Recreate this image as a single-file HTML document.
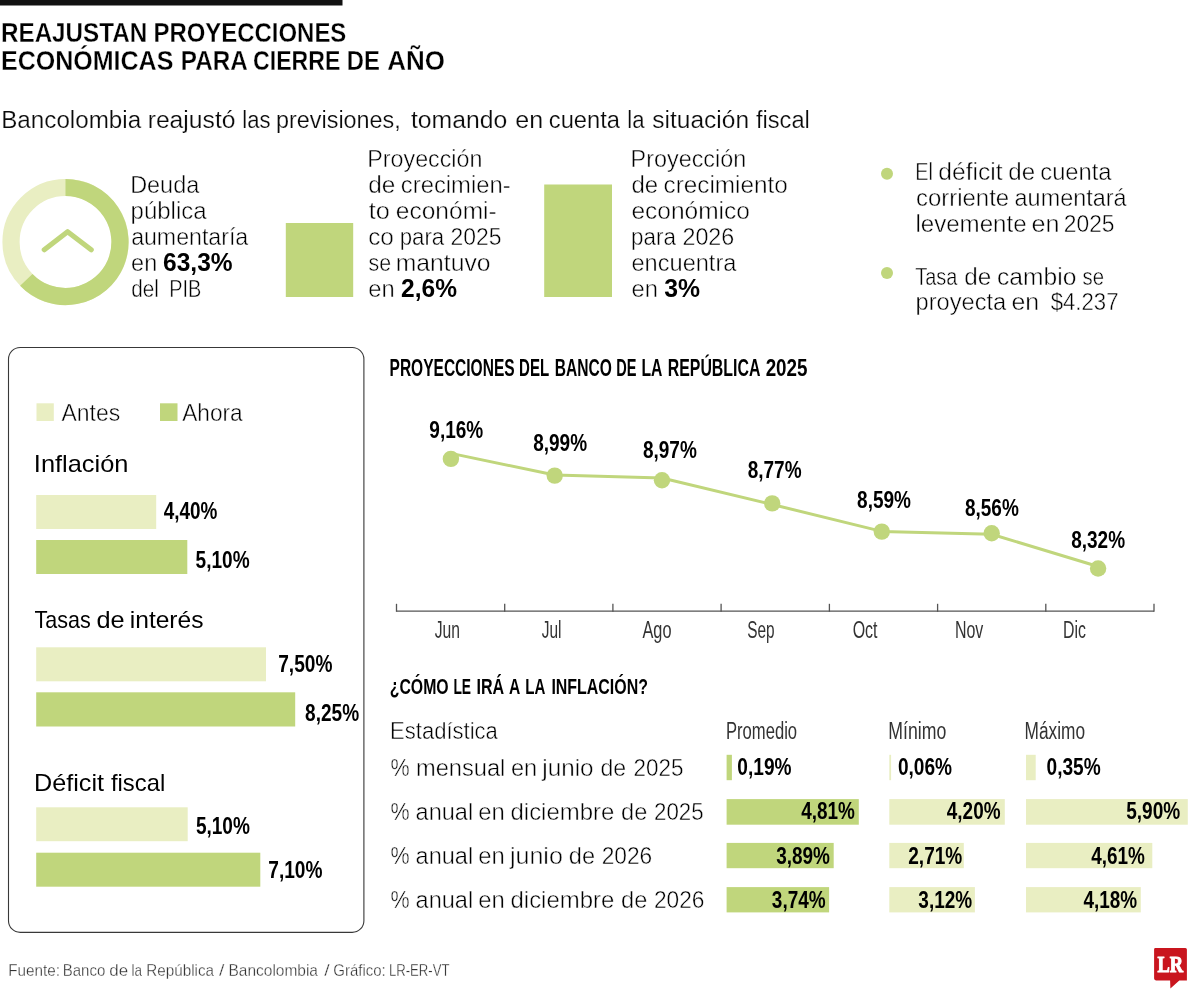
<!DOCTYPE html>
<html lang="es">
<head>
<meta charset="utf-8">
<title>Reajustan proyecciones económicas para cierre de año</title>
<style>
html,body{margin:0;padding:0;background:#fff;}
body{width:1200px;height:998px;overflow:hidden;font-family:"Liberation Sans",sans-serif;}
svg{display:block;will-change:transform;transform:translateZ(0);}
text{white-space:pre;}
</style>
</head>
<body>
<svg width="1200" height="998" viewBox="0 0 1200 998">
<rect x="0" y="0" width="1200" height="998" fill="#ffffff"/>
<rect x="0.0" y="0.0" width="342.5" height="5.5" fill="#111"/>
<text x="0.99" y="41.7" font-family="Liberation Sans" font-size="27.4" font-weight="700" fill="#000" textLength="146.24" lengthAdjust="spacingAndGlyphs" stroke="#fff" stroke-width="0.3">REAJUSTAN</text>
<text x="153.41" y="41.7" font-family="Liberation Sans" font-size="27.4" font-weight="700" fill="#000" textLength="192.93" lengthAdjust="spacingAndGlyphs" stroke="#fff" stroke-width="0.3">PROYECCIONES</text>
<text x="0.94" y="70.3" font-family="Liberation Sans" font-size="27.4" font-weight="700" fill="#000" textLength="172.45" lengthAdjust="spacingAndGlyphs" stroke="#fff" stroke-width="0.3">ECONÓMICAS</text>
<text x="180.79" y="70.3" font-family="Liberation Sans" font-size="27.4" font-weight="700" fill="#000" textLength="66.85" lengthAdjust="spacingAndGlyphs" stroke="#fff" stroke-width="0.3">PARA</text>
<text x="253.05" y="70.3" font-family="Liberation Sans" font-size="27.4" font-weight="700" fill="#000" textLength="87.24" lengthAdjust="spacingAndGlyphs" stroke="#fff" stroke-width="0.3">CIERRE</text>
<text x="346.81" y="70.3" font-family="Liberation Sans" font-size="27.4" font-weight="700" fill="#000" textLength="33.12" lengthAdjust="spacingAndGlyphs" stroke="#fff" stroke-width="0.3">DE</text>
<text x="387.36" y="70.3" font-family="Liberation Sans" font-size="27.4" font-weight="700" fill="#000" textLength="57.72" lengthAdjust="spacingAndGlyphs" stroke="#fff" stroke-width="0.3">AÑO</text>
<text x="1.21" y="127.5" font-family="Liberation Sans" font-size="23" font-weight="400" fill="#0a0a0a" textLength="139.98" lengthAdjust="spacingAndGlyphs" stroke="#fff" stroke-width="0.2">Bancolombia</text>
<text x="147.67" y="127.5" font-family="Liberation Sans" font-size="23" font-weight="400" fill="#0a0a0a" textLength="87.86" lengthAdjust="spacingAndGlyphs" stroke="#fff" stroke-width="0.2">reajustó</text>
<text x="242.32" y="127.5" font-family="Liberation Sans" font-size="23" font-weight="400" fill="#0a0a0a" textLength="28.17" lengthAdjust="spacingAndGlyphs" stroke="#fff" stroke-width="0.2">las</text>
<text x="276.00" y="127.5" font-family="Liberation Sans" font-size="23" font-weight="400" fill="#0a0a0a" textLength="124.80" lengthAdjust="spacingAndGlyphs" stroke="#fff" stroke-width="0.2">previsiones,</text>
<text x="410.93" y="127.5" font-family="Liberation Sans" font-size="23" font-weight="400" fill="#0a0a0a" textLength="96.30" lengthAdjust="spacingAndGlyphs" stroke="#fff" stroke-width="0.2">tomando</text>
<text x="515.25" y="127.5" font-family="Liberation Sans" font-size="23" font-weight="400" fill="#0a0a0a" textLength="27.88" lengthAdjust="spacingAndGlyphs" stroke="#fff" stroke-width="0.2">en</text>
<text x="548.80" y="127.5" font-family="Liberation Sans" font-size="23" font-weight="400" fill="#0a0a0a" textLength="71.18" lengthAdjust="spacingAndGlyphs" stroke="#fff" stroke-width="0.2">cuenta</text>
<text x="627.32" y="127.5" font-family="Liberation Sans" font-size="23" font-weight="400" fill="#0a0a0a" textLength="17.17" lengthAdjust="spacingAndGlyphs" stroke="#fff" stroke-width="0.2">la</text>
<text x="652.33" y="127.5" font-family="Liberation Sans" font-size="23" font-weight="400" fill="#0a0a0a" textLength="96.76" lengthAdjust="spacingAndGlyphs" stroke="#fff" stroke-width="0.2">situación</text>
<text x="755.97" y="127.5" font-family="Liberation Sans" font-size="23" font-weight="400" fill="#0a0a0a" textLength="53.81" lengthAdjust="spacingAndGlyphs" stroke="#fff" stroke-width="0.2">fiscal</text>
<circle cx="65.5" cy="242" r="54.5" fill="none" stroke="#e9eec2" stroke-width="17.2"/>
<path d="M65.50,187.50 A54.5,54.5 0 1 1 26.30,279.86" fill="none" stroke="#c0d67c" stroke-width="17.2"/>
<path d="M44.3,249.7 L67.6,231.7 L91.2,249.7" fill="none" stroke="#c0d67c" stroke-width="5.2" stroke-linecap="round" stroke-linejoin="round"/>
<text x="130.18" y="192.5" font-family="Liberation Sans" font-size="24.2" font-weight="400" fill="#000" textLength="69.02" lengthAdjust="spacingAndGlyphs" stroke="#fff" stroke-width="0.45">Deuda</text>
<text x="130.56" y="218.5" font-family="Liberation Sans" font-size="24.2" font-weight="400" fill="#000" textLength="76.12" lengthAdjust="spacingAndGlyphs" stroke="#fff" stroke-width="0.45">pública</text>
<text x="131.13" y="244.5" font-family="Liberation Sans" font-size="24.2" font-weight="400" fill="#000" textLength="117.06" lengthAdjust="spacingAndGlyphs" stroke="#fff" stroke-width="0.45">aumentaría</text>
<text x="131.11" y="270.5" font-family="Liberation Sans" font-size="24.2" font-weight="400" fill="#000" textLength="26.11" lengthAdjust="spacingAndGlyphs" stroke="#fff" stroke-width="0.45">en</text>
<text x="163.10" y="270.5" font-family="Liberation Sans" font-size="25" font-weight="700" fill="#000" textLength="69.53" lengthAdjust="spacingAndGlyphs">63,3%</text>
<text x="131.24" y="296.5" font-family="Liberation Sans" font-size="24.2" font-weight="400" fill="#000" textLength="27.64" lengthAdjust="spacingAndGlyphs" stroke="#fff" stroke-width="0.45">del</text>
<text x="169.17" y="296.5" font-family="Liberation Sans" font-size="24.2" font-weight="400" fill="#000" textLength="32.07" lengthAdjust="spacingAndGlyphs" stroke="#fff" stroke-width="0.45">PIB</text>
<rect x="285.8" y="223.0" width="67.4" height="74.0" fill="#c0d67c"/>
<rect x="544.2" y="184.5" width="67.8" height="112.5" fill="#c0d67c"/>
<text x="367.29" y="166.5" font-family="Liberation Sans" font-size="24.2" font-weight="400" fill="#000" textLength="115.12" lengthAdjust="spacingAndGlyphs" stroke="#fff" stroke-width="0.45">Proyección</text>
<text x="368.19" y="192.5" font-family="Liberation Sans" font-size="24.2" font-weight="400" fill="#000" textLength="27.09" lengthAdjust="spacingAndGlyphs" stroke="#fff" stroke-width="0.45">de</text>
<text x="400.80" y="192.5" font-family="Liberation Sans" font-size="24.2" font-weight="400" fill="#000" textLength="109.84" lengthAdjust="spacingAndGlyphs" stroke="#fff" stroke-width="0.45">crecimien-</text>
<text x="368.82" y="218.5" font-family="Liberation Sans" font-size="24.2" font-weight="400" fill="#000" textLength="21.13" lengthAdjust="spacingAndGlyphs" stroke="#fff" stroke-width="0.45">to</text>
<text x="395.87" y="218.5" font-family="Liberation Sans" font-size="24.2" font-weight="400" fill="#000" textLength="100.80" lengthAdjust="spacingAndGlyphs" stroke="#fff" stroke-width="0.45">económi-</text>
<text x="368.18" y="244.5" font-family="Liberation Sans" font-size="24.2" font-weight="400" fill="#000" textLength="25.74" lengthAdjust="spacingAndGlyphs" stroke="#fff" stroke-width="0.45">co</text>
<text x="399.68" y="244.5" font-family="Liberation Sans" font-size="24.2" font-weight="400" fill="#000" textLength="44.51" lengthAdjust="spacingAndGlyphs" stroke="#fff" stroke-width="0.45">para</text>
<text x="450.45" y="244.5" font-family="Liberation Sans" font-size="24.2" font-weight="400" fill="#000" textLength="51.00" lengthAdjust="spacingAndGlyphs" stroke="#fff" stroke-width="0.45">2025</text>
<text x="368.61" y="270.5" font-family="Liberation Sans" font-size="24.2" font-weight="400" fill="#000" textLength="22.53" lengthAdjust="spacingAndGlyphs" stroke="#fff" stroke-width="0.45">se</text>
<text x="395.77" y="270.5" font-family="Liberation Sans" font-size="24.2" font-weight="400" fill="#000" textLength="94.86" lengthAdjust="spacingAndGlyphs" stroke="#fff" stroke-width="0.45">mantuvo</text>
<text x="368.20" y="296.5" font-family="Liberation Sans" font-size="24.2" font-weight="400" fill="#000" textLength="26.44" lengthAdjust="spacingAndGlyphs" stroke="#fff" stroke-width="0.45">en</text>
<text x="401.05" y="296.5" font-family="Liberation Sans" font-size="25" font-weight="700" fill="#000" textLength="55.89" lengthAdjust="spacingAndGlyphs">2,6%</text>
<text x="630.58" y="166.5" font-family="Liberation Sans" font-size="24.2" font-weight="400" fill="#000" textLength="115.63" lengthAdjust="spacingAndGlyphs" stroke="#fff" stroke-width="0.45">Proyección</text>
<text x="631.51" y="192.5" font-family="Liberation Sans" font-size="24.2" font-weight="400" fill="#000" textLength="26.66" lengthAdjust="spacingAndGlyphs" stroke="#fff" stroke-width="0.45">de</text>
<text x="663.48" y="192.5" font-family="Liberation Sans" font-size="24.2" font-weight="400" fill="#000" textLength="124.34" lengthAdjust="spacingAndGlyphs" stroke="#fff" stroke-width="0.45">crecimiento</text>
<text x="631.47" y="218.5" font-family="Liberation Sans" font-size="24.2" font-weight="400" fill="#000" textLength="118.44" lengthAdjust="spacingAndGlyphs" stroke="#fff" stroke-width="0.45">económico</text>
<text x="631.07" y="244.5" font-family="Liberation Sans" font-size="24.2" font-weight="400" fill="#000" textLength="44.82" lengthAdjust="spacingAndGlyphs" stroke="#fff" stroke-width="0.45">para</text>
<text x="682.43" y="244.5" font-family="Liberation Sans" font-size="24.2" font-weight="400" fill="#000" textLength="51.88" lengthAdjust="spacingAndGlyphs" stroke="#fff" stroke-width="0.45">2026</text>
<text x="631.51" y="270.5" font-family="Liberation Sans" font-size="24.2" font-weight="400" fill="#000" textLength="104.89" lengthAdjust="spacingAndGlyphs" stroke="#fff" stroke-width="0.45">encuentra</text>
<text x="631.50" y="296.5" font-family="Liberation Sans" font-size="24.2" font-weight="400" fill="#000" textLength="26.44" lengthAdjust="spacingAndGlyphs" stroke="#fff" stroke-width="0.45">en</text>
<text x="664.14" y="296.5" font-family="Liberation Sans" font-size="25" font-weight="700" fill="#000" textLength="35.81" lengthAdjust="spacingAndGlyphs">3%</text>
<circle cx="887" cy="173.8" r="6" fill="#c0d67c"/>
<circle cx="887" cy="273" r="6" fill="#c0d67c"/>
<text x="915.37" y="180.0" font-family="Liberation Sans" font-size="24.2" font-weight="400" fill="#000" textLength="17.65" lengthAdjust="spacingAndGlyphs" stroke="#fff" stroke-width="0.45">El</text>
<text x="938.28" y="180.0" font-family="Liberation Sans" font-size="24.2" font-weight="400" fill="#000" textLength="64.29" lengthAdjust="spacingAndGlyphs" stroke="#fff" stroke-width="0.45">déficit</text>
<text x="1008.30" y="180.0" font-family="Liberation Sans" font-size="24.2" font-weight="400" fill="#000" textLength="26.76" lengthAdjust="spacingAndGlyphs" stroke="#fff" stroke-width="0.45">de</text>
<text x="1040.30" y="180.0" font-family="Liberation Sans" font-size="24.2" font-weight="400" fill="#000" textLength="71.28" lengthAdjust="spacingAndGlyphs" stroke="#fff" stroke-width="0.45">cuenta</text>
<text x="915.99" y="206.0" font-family="Liberation Sans" font-size="24.2" font-weight="400" fill="#000" textLength="93.16" lengthAdjust="spacingAndGlyphs" stroke="#fff" stroke-width="0.45">corriente</text>
<text x="1014.62" y="206.0" font-family="Liberation Sans" font-size="24.2" font-weight="400" fill="#000" textLength="111.88" lengthAdjust="spacingAndGlyphs" stroke="#fff" stroke-width="0.45">aumentará</text>
<text x="915.38" y="232.0" font-family="Liberation Sans" font-size="24.2" font-weight="400" fill="#000" textLength="111.28" lengthAdjust="spacingAndGlyphs" stroke="#fff" stroke-width="0.45">levemente</text>
<text x="1031.64" y="232.0" font-family="Liberation Sans" font-size="24.2" font-weight="400" fill="#000" textLength="27.99" lengthAdjust="spacingAndGlyphs" stroke="#fff" stroke-width="0.45">en</text>
<text x="1063.76" y="232.0" font-family="Liberation Sans" font-size="24.2" font-weight="400" fill="#000" textLength="50.79" lengthAdjust="spacingAndGlyphs" stroke="#fff" stroke-width="0.45">2025</text>
<text x="915.16" y="284.6" font-family="Liberation Sans" font-size="24.2" font-weight="400" fill="#000" textLength="42.14" lengthAdjust="spacingAndGlyphs" stroke="#fff" stroke-width="0.45">Tasa</text>
<text x="964.19" y="284.6" font-family="Liberation Sans" font-size="24.2" font-weight="400" fill="#000" textLength="26.98" lengthAdjust="spacingAndGlyphs" stroke="#fff" stroke-width="0.45">de</text>
<text x="997.07" y="284.6" font-family="Liberation Sans" font-size="24.2" font-weight="400" fill="#000" textLength="79.36" lengthAdjust="spacingAndGlyphs" stroke="#fff" stroke-width="0.45">cambio</text>
<text x="1082.54" y="284.6" font-family="Liberation Sans" font-size="24.2" font-weight="400" fill="#000" textLength="21.46" lengthAdjust="spacingAndGlyphs" stroke="#fff" stroke-width="0.45">se</text>
<text x="915.49" y="310.3" font-family="Liberation Sans" font-size="24.2" font-weight="400" fill="#000" textLength="90.70" lengthAdjust="spacingAndGlyphs" stroke="#fff" stroke-width="0.45">proyecta</text>
<text x="1011.46" y="310.3" font-family="Liberation Sans" font-size="24.2" font-weight="400" fill="#000" textLength="27.66" lengthAdjust="spacingAndGlyphs" stroke="#fff" stroke-width="0.45">en</text>
<text x="1050.67" y="310.3" font-family="Liberation Sans" font-size="24.2" font-weight="400" fill="#000" textLength="67.84" lengthAdjust="spacingAndGlyphs" stroke="#fff" stroke-width="0.45">$4.237</text>
<rect x="8.5" y="347.5" width="355.4" height="584.9" rx="11.7" ry="11.7" fill="none" stroke="#383838" stroke-width="1.1"/>
<rect x="36.5" y="403.3" width="17.3" height="17.7" fill="#e9eec2"/>
<text x="61.57" y="420.8" font-family="Liberation Sans" font-size="24.2" font-weight="400" fill="#000" textLength="58.66" lengthAdjust="spacingAndGlyphs" stroke="#fff" stroke-width="0.45">Antes</text>
<rect x="160.0" y="403.3" width="17.5" height="17.7" fill="#c0d67c"/>
<text x="182.27" y="420.8" font-family="Liberation Sans" font-size="24.2" font-weight="400" fill="#000" textLength="60.42" lengthAdjust="spacingAndGlyphs" stroke="#fff" stroke-width="0.45">Ahora</text>
<text x="33.86" y="472.0" font-family="Liberation Sans" font-size="24" font-weight="400" fill="#000" textLength="94.58" lengthAdjust="spacingAndGlyphs">Inflación</text>
<text x="34.43" y="627.7" font-family="Liberation Sans" font-size="24" font-weight="400" fill="#000" textLength="56.24" lengthAdjust="spacingAndGlyphs">Tasas</text>
<text x="96.45" y="627.7" font-family="Liberation Sans" font-size="24" font-weight="400" fill="#000" textLength="28.17" lengthAdjust="spacingAndGlyphs">de</text>
<text x="129.77" y="627.7" font-family="Liberation Sans" font-size="24" font-weight="400" fill="#000" textLength="73.72" lengthAdjust="spacingAndGlyphs">interés</text>
<text x="34.04" y="791.0" font-family="Liberation Sans" font-size="24" font-weight="400" fill="#000" textLength="69.94" lengthAdjust="spacingAndGlyphs">Déficit</text>
<text x="110.97" y="791.0" font-family="Liberation Sans" font-size="24" font-weight="400" fill="#000" textLength="54.22" lengthAdjust="spacingAndGlyphs">fiscal</text>
<rect x="36.2" y="495.0" width="120.0" height="34.0" fill="#e9eec2"/>
<text x="163.72" y="519.0" font-family="Liberation Sans" font-size="24.6" font-weight="700" fill="#000" textLength="53.68" lengthAdjust="spacingAndGlyphs">4,40%</text>
<rect x="36.2" y="540.0" width="151.1" height="34.0" fill="#c0d67c"/>
<text x="195.62" y="567.7" font-family="Liberation Sans" font-size="24.6" font-weight="700" fill="#000" textLength="53.97" lengthAdjust="spacingAndGlyphs">5,10%</text>
<rect x="36.2" y="647.3" width="229.8" height="34.0" fill="#e9eec2"/>
<text x="278.19" y="671.7" font-family="Liberation Sans" font-size="24.6" font-weight="700" fill="#000" textLength="54.21" lengthAdjust="spacingAndGlyphs">7,50%</text>
<rect x="36.2" y="692.3" width="259.0" height="34.2" fill="#c0d67c"/>
<text x="305.10" y="720.7" font-family="Liberation Sans" font-size="24.6" font-weight="700" fill="#000" textLength="53.99" lengthAdjust="spacingAndGlyphs">8,25%</text>
<rect x="36.2" y="807.3" width="151.5" height="33.9" fill="#e9eec2"/>
<text x="195.92" y="834.0" font-family="Liberation Sans" font-size="24.6" font-weight="700" fill="#000" textLength="53.97" lengthAdjust="spacingAndGlyphs">5,10%</text>
<rect x="36.2" y="852.7" width="224.1" height="34.0" fill="#c0d67c"/>
<text x="268.29" y="877.7" font-family="Liberation Sans" font-size="24.6" font-weight="700" fill="#000" textLength="54.21" lengthAdjust="spacingAndGlyphs">7,10%</text>
<text x="389.57" y="375.5" font-family="Liberation Sans" font-size="23.6" font-weight="700" fill="#000" textLength="125.04" lengthAdjust="spacingAndGlyphs">PROYECCIONES</text>
<text x="519.00" y="375.5" font-family="Liberation Sans" font-size="23.6" font-weight="700" fill="#000" textLength="30.16" lengthAdjust="spacingAndGlyphs">DEL</text>
<text x="554.76" y="375.5" font-family="Liberation Sans" font-size="23.6" font-weight="700" fill="#000" textLength="57.09" lengthAdjust="spacingAndGlyphs">BANCO</text>
<text x="616.33" y="375.5" font-family="Liberation Sans" font-size="23.6" font-weight="700" fill="#000" textLength="20.24" lengthAdjust="spacingAndGlyphs">DE</text>
<text x="641.45" y="375.5" font-family="Liberation Sans" font-size="23.6" font-weight="700" fill="#000" textLength="20.95" lengthAdjust="spacingAndGlyphs">LA</text>
<text x="667.74" y="375.5" font-family="Liberation Sans" font-size="23.6" font-weight="700" fill="#000" textLength="92.67" lengthAdjust="spacingAndGlyphs">REPÚBLICA</text>
<text x="765.65" y="375.5" font-family="Liberation Sans" font-size="23.6" font-weight="700" fill="#000" textLength="41.87" lengthAdjust="spacingAndGlyphs">2025</text>
<polyline points="451,453.4 554.7,475 662,478 772.3,504.5 881.8,531.4 991.6,534.3 1098.1,566.5" fill="none" stroke="#c0d67c" stroke-width="3" stroke-linejoin="round"/>
<circle cx="450.9" cy="458.9" r="8.2" fill="#c0d67c"/>
<circle cx="554.7" cy="475.6" r="8.2" fill="#c0d67c"/>
<circle cx="662" cy="480.3" r="8.2" fill="#c0d67c"/>
<circle cx="772.2" cy="503.4" r="8.2" fill="#c0d67c"/>
<circle cx="881.8" cy="531.6" r="8.2" fill="#c0d67c"/>
<circle cx="991.7" cy="533.3" r="8.2" fill="#c0d67c"/>
<circle cx="1098.1" cy="568.5" r="8.2" fill="#c0d67c"/>
<text x="429.34" y="438.0" font-family="Liberation Sans" font-size="24.6" font-weight="700" fill="#000" textLength="53.95" lengthAdjust="spacingAndGlyphs">9,16%</text>
<text x="533.20" y="450.5" font-family="Liberation Sans" font-size="24.6" font-weight="700" fill="#000" textLength="53.89" lengthAdjust="spacingAndGlyphs">8,99%</text>
<text x="642.90" y="458.2" font-family="Liberation Sans" font-size="24.6" font-weight="700" fill="#000" textLength="53.89" lengthAdjust="spacingAndGlyphs">8,97%</text>
<text x="747.70" y="477.9" font-family="Liberation Sans" font-size="24.6" font-weight="700" fill="#000" textLength="53.89" lengthAdjust="spacingAndGlyphs">8,77%</text>
<text x="857.10" y="507.8" font-family="Liberation Sans" font-size="24.6" font-weight="700" fill="#000" textLength="53.89" lengthAdjust="spacingAndGlyphs">8,59%</text>
<text x="964.90" y="516.2" font-family="Liberation Sans" font-size="24.6" font-weight="700" fill="#000" textLength="53.89" lengthAdjust="spacingAndGlyphs">8,56%</text>
<text x="1071.20" y="548.2" font-family="Liberation Sans" font-size="24.6" font-weight="700" fill="#000" textLength="53.89" lengthAdjust="spacingAndGlyphs">8,32%</text>
<path d="M396.5,611.2 H1154" stroke="#555" stroke-width="1.3" fill="none"/>
<path d="M396.5,603.8 V611.8" stroke="#555" stroke-width="1.3" fill="none"/>
<path d="M504.7,603.8 V611.8" stroke="#555" stroke-width="1.3" fill="none"/>
<path d="M612.9,603.8 V611.8" stroke="#555" stroke-width="1.3" fill="none"/>
<path d="M721.1,603.8 V611.8" stroke="#555" stroke-width="1.3" fill="none"/>
<path d="M829.4,603.8 V611.8" stroke="#555" stroke-width="1.3" fill="none"/>
<path d="M937.6,603.8 V611.8" stroke="#555" stroke-width="1.3" fill="none"/>
<path d="M1045.8,603.8 V611.8" stroke="#555" stroke-width="1.3" fill="none"/>
<path d="M1154.0,603.8 V611.8" stroke="#555" stroke-width="1.3" fill="none"/>
<text x="434.66" y="638.3" font-family="Liberation Sans" font-size="23" font-weight="400" fill="#333" textLength="25.26" lengthAdjust="spacingAndGlyphs">Jun</text>
<text x="541.76" y="638.3" font-family="Liberation Sans" font-size="23" font-weight="400" fill="#333" textLength="19.77" lengthAdjust="spacingAndGlyphs">Jul</text>
<text x="642.48" y="638.3" font-family="Liberation Sans" font-size="23" font-weight="400" fill="#333" textLength="29.01" lengthAdjust="spacingAndGlyphs">Ago</text>
<text x="747.31" y="638.3" font-family="Liberation Sans" font-size="23" font-weight="400" fill="#333" textLength="27.33" lengthAdjust="spacingAndGlyphs">Sep</text>
<text x="852.65" y="638.3" font-family="Liberation Sans" font-size="23" font-weight="400" fill="#333" textLength="24.86" lengthAdjust="spacingAndGlyphs">Oct</text>
<text x="954.99" y="638.3" font-family="Liberation Sans" font-size="23" font-weight="400" fill="#333" textLength="28.35" lengthAdjust="spacingAndGlyphs">Nov</text>
<text x="1063.00" y="638.3" font-family="Liberation Sans" font-size="23" font-weight="400" fill="#333" textLength="22.91" lengthAdjust="spacingAndGlyphs">Dic</text>
<text x="389.72" y="693.8" font-family="Liberation Sans" font-size="22.9" font-weight="700" fill="#000" textLength="58.94" lengthAdjust="spacingAndGlyphs">¿CÓMO</text>
<text x="453.38" y="693.8" font-family="Liberation Sans" font-size="22.9" font-weight="700" fill="#000" textLength="17.66" lengthAdjust="spacingAndGlyphs">LE</text>
<text x="476.43" y="693.8" font-family="Liberation Sans" font-size="22.9" font-weight="700" fill="#000" textLength="27.69" lengthAdjust="spacingAndGlyphs">IRÁ</text>
<text x="509.12" y="693.8" font-family="Liberation Sans" font-size="22.9" font-weight="700" fill="#000" textLength="11.29" lengthAdjust="spacingAndGlyphs">A</text>
<text x="525.30" y="693.8" font-family="Liberation Sans" font-size="22.9" font-weight="700" fill="#000" textLength="20.09" lengthAdjust="spacingAndGlyphs">LA</text>
<text x="551.44" y="693.8" font-family="Liberation Sans" font-size="22.9" font-weight="700" fill="#000" textLength="96.47" lengthAdjust="spacingAndGlyphs">INFLACIÓN?</text>
<text x="390.09" y="738.9" font-family="Liberation Sans" font-size="23.7" font-weight="400" fill="#000" textLength="107.70" lengthAdjust="spacingAndGlyphs" stroke="#fff" stroke-width="0.45">Estadística</text>
<text x="390.44" y="775.6" font-family="Liberation Sans" font-size="23.7" font-weight="400" fill="#000" textLength="19.12" lengthAdjust="spacingAndGlyphs" stroke="#fff" stroke-width="0.45">%</text>
<text x="415.94" y="775.6" font-family="Liberation Sans" font-size="23.7" font-weight="400" fill="#000" textLength="89.44" lengthAdjust="spacingAndGlyphs" stroke="#fff" stroke-width="0.45">mensual</text>
<text x="511.01" y="775.6" font-family="Liberation Sans" font-size="23.7" font-weight="400" fill="#000" textLength="26.22" lengthAdjust="spacingAndGlyphs" stroke="#fff" stroke-width="0.45">en</text>
<text x="542.39" y="775.6" font-family="Liberation Sans" font-size="23.7" font-weight="400" fill="#000" textLength="51.22" lengthAdjust="spacingAndGlyphs" stroke="#fff" stroke-width="0.45">junio</text>
<text x="600.44" y="775.6" font-family="Liberation Sans" font-size="23.7" font-weight="400" fill="#000" textLength="25.68" lengthAdjust="spacingAndGlyphs" stroke="#fff" stroke-width="0.45">de</text>
<text x="633.58" y="775.6" font-family="Liberation Sans" font-size="23.7" font-weight="400" fill="#000" textLength="49.96" lengthAdjust="spacingAndGlyphs" stroke="#fff" stroke-width="0.45">2025</text>
<text x="390.44" y="819.5" font-family="Liberation Sans" font-size="23.7" font-weight="400" fill="#000" textLength="19.12" lengthAdjust="spacingAndGlyphs" stroke="#fff" stroke-width="0.45">%</text>
<text x="415.61" y="819.5" font-family="Liberation Sans" font-size="23.7" font-weight="400" fill="#000" textLength="57.56" lengthAdjust="spacingAndGlyphs" stroke="#fff" stroke-width="0.45">anual</text>
<text x="478.30" y="819.5" font-family="Liberation Sans" font-size="23.7" font-weight="400" fill="#000" textLength="26.55" lengthAdjust="spacingAndGlyphs" stroke="#fff" stroke-width="0.45">en</text>
<text x="510.51" y="819.5" font-family="Liberation Sans" font-size="23.7" font-weight="400" fill="#000" textLength="103.85" lengthAdjust="spacingAndGlyphs" stroke="#fff" stroke-width="0.45">diciembre</text>
<text x="621.12" y="819.5" font-family="Liberation Sans" font-size="23.7" font-weight="400" fill="#000" textLength="26.22" lengthAdjust="spacingAndGlyphs" stroke="#fff" stroke-width="0.45">de</text>
<text x="653.98" y="819.5" font-family="Liberation Sans" font-size="23.7" font-weight="400" fill="#000" textLength="49.64" lengthAdjust="spacingAndGlyphs" stroke="#fff" stroke-width="0.45">2025</text>
<text x="390.44" y="864.3" font-family="Liberation Sans" font-size="23.7" font-weight="400" fill="#000" textLength="19.12" lengthAdjust="spacingAndGlyphs" stroke="#fff" stroke-width="0.45">%</text>
<text x="415.61" y="864.3" font-family="Liberation Sans" font-size="23.7" font-weight="400" fill="#000" textLength="57.56" lengthAdjust="spacingAndGlyphs" stroke="#fff" stroke-width="0.45">anual</text>
<text x="478.30" y="864.3" font-family="Liberation Sans" font-size="23.7" font-weight="400" fill="#000" textLength="26.55" lengthAdjust="spacingAndGlyphs" stroke="#fff" stroke-width="0.45">en</text>
<text x="509.91" y="864.3" font-family="Liberation Sans" font-size="23.7" font-weight="400" fill="#000" textLength="52.93" lengthAdjust="spacingAndGlyphs" stroke="#fff" stroke-width="0.45">junio</text>
<text x="568.82" y="864.3" font-family="Liberation Sans" font-size="23.7" font-weight="400" fill="#000" textLength="26.22" lengthAdjust="spacingAndGlyphs" stroke="#fff" stroke-width="0.45">de</text>
<text x="601.66" y="864.3" font-family="Liberation Sans" font-size="23.7" font-weight="400" fill="#000" textLength="50.53" lengthAdjust="spacingAndGlyphs" stroke="#fff" stroke-width="0.45">2026</text>
<text x="390.44" y="908.3" font-family="Liberation Sans" font-size="23.7" font-weight="400" fill="#000" textLength="19.12" lengthAdjust="spacingAndGlyphs" stroke="#fff" stroke-width="0.45">%</text>
<text x="415.61" y="908.3" font-family="Liberation Sans" font-size="23.7" font-weight="400" fill="#000" textLength="57.56" lengthAdjust="spacingAndGlyphs" stroke="#fff" stroke-width="0.45">anual</text>
<text x="478.30" y="908.3" font-family="Liberation Sans" font-size="23.7" font-weight="400" fill="#000" textLength="26.55" lengthAdjust="spacingAndGlyphs" stroke="#fff" stroke-width="0.45">en</text>
<text x="510.51" y="908.3" font-family="Liberation Sans" font-size="23.7" font-weight="400" fill="#000" textLength="103.85" lengthAdjust="spacingAndGlyphs" stroke="#fff" stroke-width="0.45">diciembre</text>
<text x="621.12" y="908.3" font-family="Liberation Sans" font-size="23.7" font-weight="400" fill="#000" textLength="26.22" lengthAdjust="spacingAndGlyphs" stroke="#fff" stroke-width="0.45">de</text>
<text x="653.96" y="908.3" font-family="Liberation Sans" font-size="23.7" font-weight="400" fill="#000" textLength="50.53" lengthAdjust="spacingAndGlyphs" stroke="#fff" stroke-width="0.45">2026</text>
<text x="725.94" y="738.7" font-family="Liberation Sans" font-size="23" font-weight="400" fill="#333" textLength="71.16" lengthAdjust="spacingAndGlyphs">Promedio</text>
<text x="888.25" y="738.7" font-family="Liberation Sans" font-size="23" font-weight="400" fill="#333" textLength="57.99" lengthAdjust="spacingAndGlyphs">Mínimo</text>
<text x="1024.58" y="738.7" font-family="Liberation Sans" font-size="23" font-weight="400" fill="#333" textLength="60.43" lengthAdjust="spacingAndGlyphs">Máximo</text>
<rect x="726.6" y="754.8" width="5.3" height="25.4" fill="#c0d67c"/>
<text x="737.35" y="774.9" font-family="Liberation Sans" font-size="24.6" font-weight="700" fill="#000" textLength="54.15" lengthAdjust="spacingAndGlyphs">0,19%</text>
<rect x="726.6" y="799.1" width="132.2" height="25.6" fill="#c0d67c"/>
<text x="801.22" y="819.1" font-family="Liberation Sans" font-size="24.6" font-weight="700" fill="#000" textLength="53.68" lengthAdjust="spacingAndGlyphs">4,81%</text>
<rect x="726.6" y="842.9" width="107.1" height="25.3" fill="#c0d67c"/>
<text x="776.17" y="863.6" font-family="Liberation Sans" font-size="24.6" font-weight="700" fill="#000" textLength="53.82" lengthAdjust="spacingAndGlyphs">3,89%</text>
<rect x="726.6" y="887.1" width="102.5" height="25.3" fill="#c0d67c"/>
<text x="771.87" y="907.8" font-family="Liberation Sans" font-size="24.6" font-weight="700" fill="#000" textLength="53.82" lengthAdjust="spacingAndGlyphs">3,74%</text>
<rect x="889.3" y="754.8" width="1.8" height="25.4" fill="#e9eec2"/>
<text x="897.95" y="774.9" font-family="Liberation Sans" font-size="24.6" font-weight="700" fill="#000" textLength="54.15" lengthAdjust="spacingAndGlyphs">0,06%</text>
<rect x="889.3" y="799.1" width="115.5" height="25.6" fill="#e9eec2"/>
<text x="946.82" y="819.1" font-family="Liberation Sans" font-size="24.6" font-weight="700" fill="#000" textLength="53.68" lengthAdjust="spacingAndGlyphs">4,20%</text>
<rect x="889.3" y="842.9" width="74.5" height="25.3" fill="#e9eec2"/>
<text x="908.24" y="863.6" font-family="Liberation Sans" font-size="24.6" font-weight="700" fill="#000" textLength="54.05" lengthAdjust="spacingAndGlyphs">2,71%</text>
<rect x="889.3" y="887.1" width="85.6" height="25.3" fill="#e9eec2"/>
<text x="918.37" y="907.8" font-family="Liberation Sans" font-size="24.6" font-weight="700" fill="#000" textLength="53.82" lengthAdjust="spacingAndGlyphs">3,12%</text>
<rect x="1026.0" y="754.8" width="9.7" height="25.4" fill="#e9eec2"/>
<text x="1046.55" y="774.9" font-family="Liberation Sans" font-size="24.6" font-weight="700" fill="#000" textLength="54.15" lengthAdjust="spacingAndGlyphs">0,35%</text>
<rect x="1026.0" y="799.1" width="161.8" height="25.6" fill="#e9eec2"/>
<text x="1126.22" y="819.1" font-family="Liberation Sans" font-size="24.6" font-weight="700" fill="#000" textLength="53.97" lengthAdjust="spacingAndGlyphs">5,90%</text>
<rect x="1026.0" y="842.9" width="126.3" height="25.3" fill="#e9eec2"/>
<text x="1091.22" y="863.6" font-family="Liberation Sans" font-size="24.6" font-weight="700" fill="#000" textLength="53.68" lengthAdjust="spacingAndGlyphs">4,61%</text>
<rect x="1026.0" y="887.1" width="114.8" height="25.3" fill="#e9eec2"/>
<text x="1083.42" y="907.8" font-family="Liberation Sans" font-size="24.6" font-weight="700" fill="#000" textLength="53.68" lengthAdjust="spacingAndGlyphs">4,18%</text>
<text x="8.15" y="975.5" font-family="Liberation Sans" font-size="16.2" font-weight="400" fill="#333" textLength="51.84" lengthAdjust="spacingAndGlyphs" stroke="#fff" stroke-width="0.3">Fuente:</text>
<text x="62.77" y="975.5" font-family="Liberation Sans" font-size="16.2" font-weight="400" fill="#333" textLength="42.45" lengthAdjust="spacingAndGlyphs" stroke="#fff" stroke-width="0.3">Banco</text>
<text x="109.30" y="975.5" font-family="Liberation Sans" font-size="16.2" font-weight="400" fill="#333" textLength="18.85" lengthAdjust="spacingAndGlyphs" stroke="#fff" stroke-width="0.3">de</text>
<text x="131.50" y="975.5" font-family="Liberation Sans" font-size="16.2" font-weight="400" fill="#333" textLength="10.50" lengthAdjust="spacingAndGlyphs" stroke="#fff" stroke-width="0.3">la</text>
<text x="146.35" y="975.5" font-family="Liberation Sans" font-size="16.2" font-weight="400" fill="#333" textLength="67.64" lengthAdjust="spacingAndGlyphs" stroke="#fff" stroke-width="0.3">República</text>
<text x="219.00" y="975.5" font-family="Liberation Sans" font-size="16.2" font-weight="400" fill="#333" textLength="5.40" lengthAdjust="spacingAndGlyphs" stroke="#fff" stroke-width="0.3">/</text>
<text x="228.53" y="975.5" font-family="Liberation Sans" font-size="16.2" font-weight="400" fill="#333" textLength="89.47" lengthAdjust="spacingAndGlyphs" stroke="#fff" stroke-width="0.3">Bancolombia</text>
<text x="324.20" y="975.5" font-family="Liberation Sans" font-size="16.2" font-weight="400" fill="#333" textLength="5.40" lengthAdjust="spacingAndGlyphs" stroke="#fff" stroke-width="0.3">/</text>
<text x="333.25" y="975.5" font-family="Liberation Sans" font-size="16.2" font-weight="400" fill="#333" textLength="52.51" lengthAdjust="spacingAndGlyphs" stroke="#fff" stroke-width="0.3">Gráfico:</text>
<text x="388.92" y="975.5" font-family="Liberation Sans" font-size="16.2" font-weight="400" fill="#333" textLength="60.58" lengthAdjust="spacingAndGlyphs" stroke="#fff" stroke-width="0.3">LR-ER-VT</text>
<path d="M1154.1,949.3 Q1154.1,947.9 1155.5,947.9 H1185.4 Q1186.9,947.9 1186.9,949.4 V980.4 H1179.3 L1170.4,988.6 L1170.1,980.4 H1156 Q1154.1,980.4 1154.1,978.6 Z" fill="#c9151e"/>
<text x="1157.39" y="971.5" font-family="Liberation Serif" font-size="23.2" font-weight="700" fill="#fff" textLength="25.65" lengthAdjust="spacingAndGlyphs" stroke="#fff" stroke-width="1" stroke-linejoin="round">LR</text>
</svg>
</body>
</html>
